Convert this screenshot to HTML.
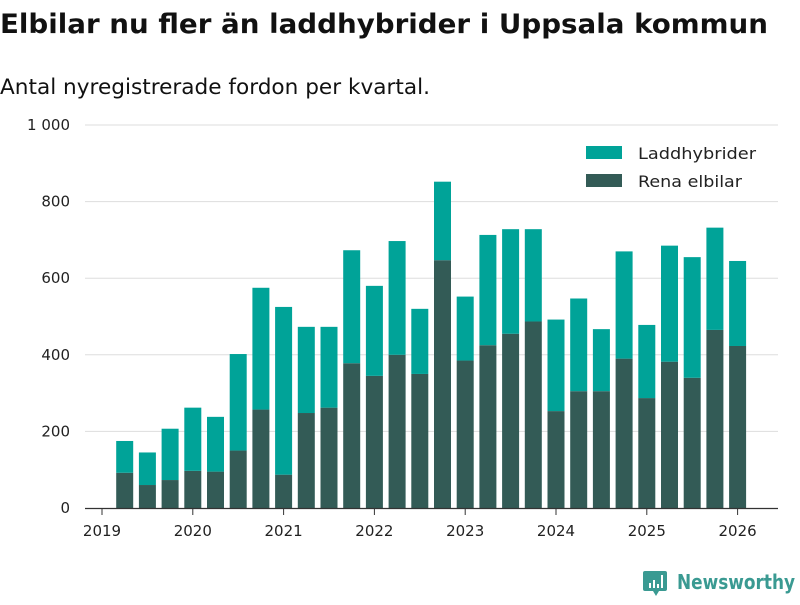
<!DOCTYPE html>
<html><head><meta charset="utf-8"><style>
body{margin:0;width:800px;height:600px;background:#fff;overflow:hidden;font-family:"Liberation Sans",sans-serif;}
svg text{font-family:"DejaVu Sans","Liberation Sans",sans-serif;}
</style></head><body>
<svg id="c" width="800" height="600">
<text x="0" y="33" font-size="27" font-weight="bold" fill="#111" textLength="768" lengthAdjust="spacingAndGlyphs">Elbilar nu fler än laddhybrider i Uppsala kommun</text>
<text x="0" y="94" font-size="21" fill="#111" textLength="430" lengthAdjust="spacingAndGlyphs">Antal nyregistrerade fordon per kvartal.</text>
<g id="grid"></g><g id="bars"></g><g id="axes"></g>
<g>
<rect x="586" y="146" width="36" height="13" fill="#00a398"/>
<text x="638" y="159" font-size="16" fill="#222" textLength="118" lengthAdjust="spacingAndGlyphs">Laddhybrider</text>
<rect x="586" y="174" width="36" height="13" fill="#335b56"/>
<text x="638" y="187" font-size="16" fill="#222" textLength="104" lengthAdjust="spacingAndGlyphs">Rena elbilar</text>
</g>
<g>
<path d="M645 571 h20 a2 2 0 0 1 2 2 v16 a2 2 0 0 1 -2 2 h-6 l-3 5 l-3 -5 h-8 a2 2 0 0 1 -2 -2 v-16 a2 2 0 0 1 2 -2z" fill="#3a9a92"/>
<rect x="649" y="583" width="2" height="5" fill="#fff"/><rect x="653" y="580" width="2" height="8" fill="#fff"/><rect x="657" y="584" width="2" height="4" fill="#fff"/><rect x="661" y="575" width="2" height="13" fill="#fff"/>
<text x="677" y="589" font-size="20" font-weight="bold" fill="#3a9a92" textLength="118" lengthAdjust="spacingAndGlyphs">Newsworthy</text>
</g>
</svg>
<script>
const quarters=[2019.25,2019.5,2019.75,2020,2020.25,2020.5,2020.75,2021,2021.25,2021.5,2021.75,2022,2022.25,2022.5,2022.75,2023,2023.25,2023.5,2023.75,2024,2024.25,2024.5,2024.75,2025,2025.25,2025.5,2025.75,2026];
const elbilar=[92,60,73,97,95,150,257,87,248,262,378,345,400,350,647,385,425,455,487,253,305,305,390,287,382,340,465,423];
const laddhybrider=[83,85,134,165,143,252,318,438,225,211,295,235,297,170,205,167,288,273,241,239,242,162,280,191,303,315,267,222];
const yTicks=[0,200,400,600,800,1000];
const yTickLabels=["0","200","400","600","800","1 000"];
const xTicks=[2019,2020,2021,2022,2023,2024,2025,2026];
const NS="http://www.w3.org/2000/svg";
const y=v=>508-v*0.383;
const x=t=>102+(t-2019)*90.8;
function mk(tag,attrs,parent){const e=document.createElementNS(NS,tag);for(const k in attrs)e.setAttribute(k,attrs[k]);parent.appendChild(e);return e;}
const grid=document.getElementById('grid'),bars=document.getElementById('bars'),axes=document.getElementById('axes');
yTicks.forEach((v,i)=>{
  if(v>0){const l=mk('line',{x1:85,x2:778,y1:y(v),y2:y(v),stroke:'#ddd','stroke-width':1},grid);
  
  }
  const t=mk('text',{x:70,y:y(v)+5,'text-anchor':'end','font-size':15,fill:'#222'},axes);t.textContent=yTickLabels[i];
  
  
});
const ax=mk('line',{x1:85,x2:778,y1:508.5,y2:508.5,stroke:'#333','stroke-width':1.2},axes);


xTicks.forEach(v=>{
  const tk=mk('line',{x1:x(v),x2:x(v),y1:509,y2:515,stroke:'#333'},axes);
  
  
  const t=mk('text',{x:x(v),y:536,'text-anchor':'middle','font-size':15,fill:'#222'},axes);t.textContent=v;
  
  
});
quarters.forEach((q,i)=>{
  const cx=x(q),w=17;
  const e=mk('rect',{x:cx-w/2,y:y(elbilar[i]),width:w,height:508-y(elbilar[i]),fill:'#335b56'},bars);
  
  
  const tot=elbilar[i]+laddhybrider[i];
  const h=mk('rect',{x:cx-w/2,y:y(tot),width:w,height:y(elbilar[i])-y(tot),fill:'#00a398'},bars);
  
  
});
</script>
</body></html>
